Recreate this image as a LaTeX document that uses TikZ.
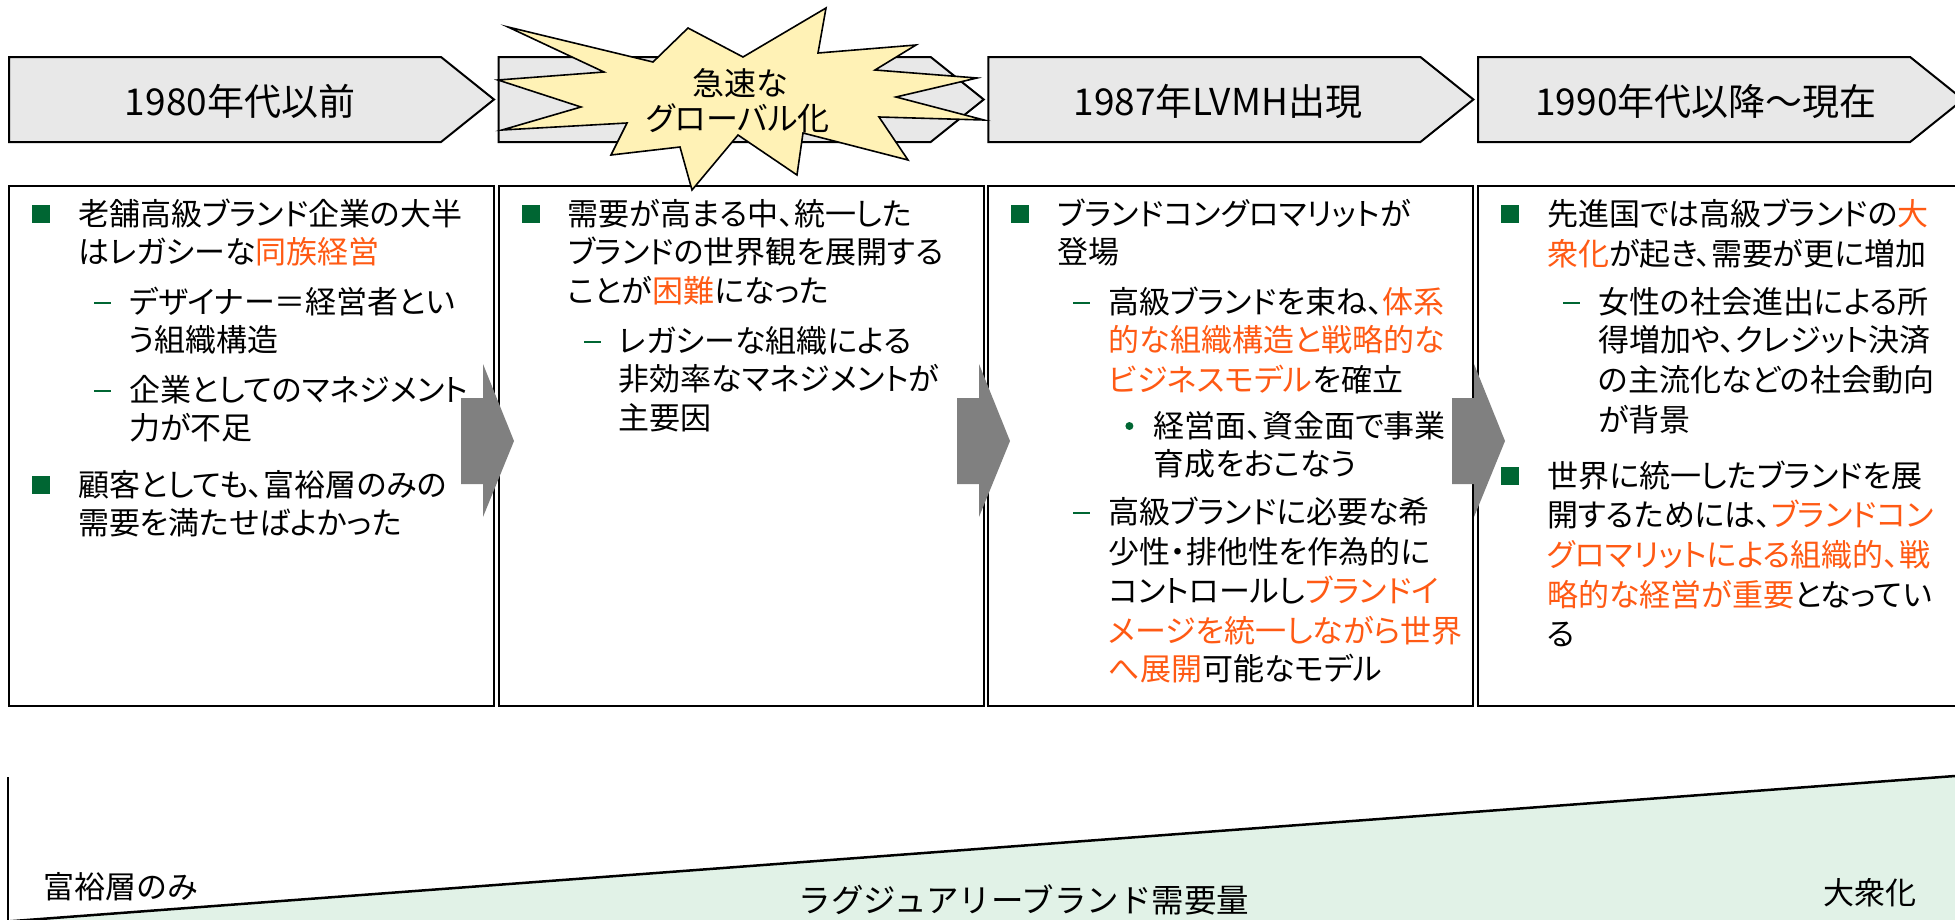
\documentclass[tikz,border=0pt]{standalone}
\usepackage{fontspec}
\setmainfont{Noto Sans CJK JP}[RawFeature=+palt]
\newfontfamily\jpfull{Noto Sans CJK JP}
\definecolor{brorange}{RGB}{255,90,20}
\definecolor{bgreen}{RGB}{0,102,51}
\definecolor{chevgray}{RGB}{232,232,232}
\definecolor{staryellow}{RGB}{255,242,182}
\definecolor{demandgreen}{RGB}{225,242,231}
\definecolor{arrowgray}{RGB}{128,128,128}
\newcommand\hl[1]{\textcolor{brorange}{#1}}
\tikzset{
  chev/.style={draw=black, line width=2pt, fill=chevgray, line join=miter},
  panel/.style={draw=black, line width=2pt, fill=white},
  burst/.style={draw=black, line width=1.6pt, fill=staryellow, line join=miter},
  flowarrow/.style={fill=arrowgray, draw=none},
  body/.style={anchor=base west, inner sep=0pt, font=\fontsize{31}{36}\selectfont},
  headlabel/.style={inner sep=0pt, font=\jpfull\fontsize{37}{42}\selectfont},
  burstlabel/.style={inner sep=0pt, font=\fontsize{32}{36}\selectfont},
  sqbullet/.style={fill=bgreen, draw=none, minimum size=18pt, inner sep=0pt},
  dashbullet/.style={fill=bgreen, draw=none, minimum width=17pt, minimum height=2.6pt, inner sep=0pt},
  dotbullet/.style={fill=bgreen, draw=none, circle, minimum size=8pt, inner sep=0pt},
  scalelabel/.style={inner sep=0pt, font=\jpfull\fontsize{31}{36}\selectfont},
  demandlabel/.style={inner sep=0pt, font=\jpfull\fontsize{32.5}{38}\selectfont},
}
\newcommand\tx[4]{\node[body] (#1) at (#2,{#3+11.5}) {#4};}
\begin{document}
\begin{tikzpicture}[x=1pt,y=-1pt]
\useasboundingbox (0,0) rectangle (1955,919);
\clip (0,0) rectangle (1955,919);
% header chevrons and panels
\foreach \i in {0,1,2,3}{
  \pgfmathsetmacro\L{9+489.7*\i}
  \draw[chev] (\L,57) -- ({\L+432},57) -- ({\L+485},99.5) -- ({\L+432},142) -- (\L,142) -- cycle;
  \draw[panel] (\L,186) rectangle ({\L+485},706);
}
\node[headlabel] (h1) at (240,101) {1980年代以前};
\node[headlabel] (h3) at (1218,101) {1987年LVMH出現};
\node[headlabel] (h4) at (1706,101) {1990年代以降～現在};

% burst
\draw[burst] (508,27) -- (653,62) -- (688,28) -- (743,57) -- (826,8) -- (818,53) -- (916,45) -- (875,70) -- (977,78) -- (896,97) -- (984,120) -- (879,117) -- (908,160) -- (803,133) -- (797,175) -- (738,135) -- (692,190) -- (680,147) -- (611,155) -- (627,123) -- (502,130) -- (581,107) -- (498,80) -- (604,72) -- cycle;
\node[burstlabel] (s1) at (740,83) {急速な};
\node[burstlabel] (s2) at (738,118) {グローバル化};

% panel 1
\node[sqbullet] (p1b1) at (41,214) {};
\tx{a1}{78}{214}{老舗高級ブランド企業の大半}
\tx{a2}{78}{252}{はレガシーな\hl{同族経営}}
\node[dashbullet] (p1d1) at (102.5,303) {};
\tx{a3}{129}{302}{デザイナー＝経営者とい}
\tx{a4}{129}{340}{う組織構造}
\node[dashbullet] (p1d2) at (102.5,391) {};
\tx{a5}{129}{390}{企業としてのマネジメント}
\tx{a6}{129}{428}{力が不足}
\node[sqbullet] (p1b2) at (41,485) {};
\tx{a7}{78}{485}{顧客としても、富裕層のみの}
\tx{a8}{78}{523}{需要を満たせばよかった}

% panel 2
\node[sqbullet] (p2b1) at (530.7,214) {};
\tx{b1}{567.7}{214}{需要が高まる中、統一した}
\tx{b2}{567.7}{252}{ブランドの世界観を展開する}
\tx{b3}{567.7}{291}{ことが\hl{困難}になった}
\node[dashbullet] (p2d1) at (592.2,342) {};
\tx{b4}{618.7}{341}{レガシーな組織による}
\tx{b5}{618.7}{379}{非効率なマネジメントが}
\tx{b6}{618.7}{418}{主要因}

% panel 3
\node[sqbullet] (p3b1) at (1020.4,214) {};
\tx{c1}{1057.4}{214}{ブランドコングロマリットが}
\tx{c2}{1057.4}{252}{登場}
\node[dashbullet] (p3d1) at (1081.9,303) {};
\tx{c3}{1108.4}{302}{高級ブランドを束ね、\hl{体系}}
\tx{c4}{1108.4}{340}{\hl{的な組織構造と戦略的な}}
\tx{c5}{1108.4}{380}{\hl{ビジネスモデル}を確立}
\node[dotbullet] (p3o1) at (1129.4,426) {};
\tx{c6}{1153.4}{426}{経営面、資金面で事業}
\tx{c7}{1153.4}{464}{育成をおこなう}
\node[dashbullet] (p3d2) at (1081.9,513) {};
\tx{c8}{1108.4}{512}{高級ブランドに必要な希}
\tx{c9}{1108.4}{552}{少性・排他性を作為的に}
\tx{c10}{1108.4}{591}{コントロールし\hl{ブランドイ}}
\tx{c11}{1108.4}{631}{\hl{メージを統一しながら世界}}
\tx{c12}{1108.4}{669}{\hl{へ展開}可能なモデル}

% panel 4
\node[sqbullet] (p4b1) at (1510.1,214) {};
\tx{d1}{1547.1}{214}{先進国では高級ブランドの\hl{大}}
\tx{d2}{1547.1}{254}{\hl{衆化}が起き、需要が更に増加}
\node[dashbullet] (p4d1) at (1571.6,303) {};
\tx{d3}{1598.1}{302}{女性の社会進出による所}
\tx{d4}{1598.1}{340}{得増加や、クレジット決済}
\tx{d5}{1598.1}{380}{の主流化などの社会動向}
\tx{d6}{1598.1}{420}{が背景}
\node[sqbullet] (p4b2) at (1510.1,476) {};
\tx{d7}{1547.1}{476}{世界に統一したブランドを展}
\tx{d8}{1547.1}{515}{開するためには、\hl{ブランドコン}}
\tx{d9}{1547.1}{555}{\hl{グロマリットによる組織的、戦}}
\tx{d10}{1547.1}{595}{\hl{略的な経営が重要}となってい}
\tx{d11}{1547.1}{634}{る}

% flow arrows
\foreach \s in {461,957,1452}{
  \fill[flowarrow] (\s,398) -- ({\s+22},398) -- ({\s+22},364) -- ({\s+53},441) -- ({\s+22},517) -- ({\s+22},484) -- (\s,484) -- cycle;
}

% demand wedge
\fill[demandgreen] (8,921.4) -- (1975,774.5) -- (1975,925) -- (8,925) -- cycle;
\draw[line width=2.5pt] (8,921.4) -- (1975,774.5);
\draw[line width=2pt] (8,777) -- (8,925);
\node[scalelabel, anchor=west] (low) at (43,887) {富裕層のみ};
\node[scalelabel, anchor=west] (high) at (1823,893) {大衆化};
\node[demandlabel] (dem) at (1024,900) {ラグジュアリーブランド需要量};
\end{tikzpicture}
\end{document}
